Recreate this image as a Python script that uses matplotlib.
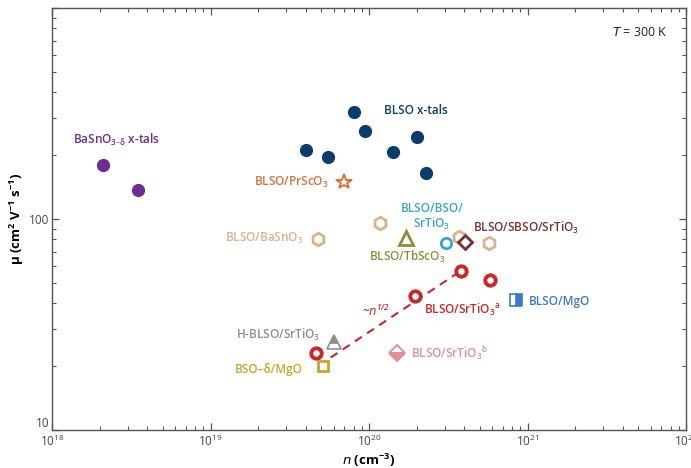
import matplotlib
matplotlib.use("Agg")
import matplotlib.pyplot as plt
from matplotlib.ticker import LogLocator, NullFormatter, FixedLocator, FixedFormatter

plt.rcParams['font.family'] = ['Open Sans', 'DejaVu Sans']
plt.rcParams['mathtext.default'] = 'regular'

# Carrier density n (cm^-3) and room-temperature mobility mu (cm^2 V^-1 s^-1)
bso_xtal_n = [2.1e18, 3.5e18]
bso_xtal_mu = [180, 137]

blso_xtal_n = [4.0e19, 5.5e19, 8.1e19, 9.4e19, 1.41e20, 2.0e20, 2.3e20]
blso_xtal_mu = [212, 197, 321, 261, 208, 245, 165]

prsco_n = [7.0e19]
prsco_mu = [150]

basno_film_n = [4.8e19, 1.18e20, 3.72e20, 5.75e20]
basno_film_mu = [80, 96, 82, 77]

bso_sto_n = [3.04e20]
bso_sto_mu = [77]

sbso_sto_n = [4.06e20]
sbso_sto_mu = [78]

tbsco_n = [1.70e20]
tbsco_mu = [81]

sto_a_n = [4.61e19, 1.94e20, 3.83e20, 5.84e20]
sto_a_mu = [23.2, 43.2, 56.7, 51.4]

mgo_n = [8.5e20]
mgo_mu = [41.3]

sto_b_n = [1.51e20]
sto_b_mu = [23.2]

h_sto_n = [5.98e19]
h_sto_mu = [26.1]

bso_mgo_n = [5.1e19]
bso_mgo_mu = [20.1]

# n^(1/2) guide line
guide_n = [4.8e19, 3.7e20]
guide_scale = 57 / (3.83e20) ** 0.5

# y-axis labelled decades
y_ticks = [10, 100, 1000]
y_tick_labels = ['10', '100', '']

PURPLE = '#6b2d8f'
NAVY = '#0a3d6b'
ORANGE = '#d2733a'
TAN = '#d6b48e'
CYAN = '#3aa5c8'
MAROON = '#7b2f30'
OLIVE = '#8e8d3c'
RED = '#c8282a'
BLUE = '#3b7bc4'
PINK = '#e08e98'
GRAY = '#8e8e90'
GOLD = '#c9a52b'

fig = plt.figure(figsize=(6.91, 4.68), dpi=100)
ax = fig.add_axes([52 / 691, 1 - 430 / 468, 634 / 691, 422 / 468])
ax.set_xscale('log')
ax.set_yscale('log')
ax.set_xlim(1e18, 1e22)
ax.set_ylim(10, 1000)

ax.plot(bso_xtal_n, bso_xtal_mu, 'o', ms=8.5, color=PURPLE, mec=PURPLE)
ax.plot(blso_xtal_n, blso_xtal_mu, 'o', ms=8.5, color=NAVY, mec=NAVY)
ax.plot(prsco_n, prsco_mu, '*', ms=11.5, mfc='white', mec=ORANGE, mew=1.4)
ax.plot(basno_film_n, basno_film_mu, 'h', ms=9, mfc='white', mec=TAN, mew=2.0)
ax.plot(bso_sto_n, bso_sto_mu, 'o', ms=7.5, mfc='white', mec=CYAN, mew=2.0)
ax.plot(sbso_sto_n, sbso_sto_mu, 'D', ms=7.5, mfc='white', mec=MAROON, mew=2.0)
ax.plot(tbsco_n, tbsco_mu, '^', ms=9.5, mfc='white', mec=OLIVE, mew=2.0)
ax.plot(guide_n, [guide_scale * v ** 0.5 for v in guide_n], '--',
        color=RED, lw=1.5, dashes=(4, 3))
ax.plot(sto_a_n, sto_a_mu, 'o', ms=7.5, mfc='white', mec=RED, mew=2.8)
ax.plot(mgo_n, mgo_mu, 's', ms=8, fillstyle='right', color=BLUE,
        mfc=BLUE, mfcalt='white', mec=BLUE, mew=1.2)
ax.plot(sto_b_n, sto_b_mu, 'D', ms=8.5, fillstyle='bottom', color=PINK,
        mfc=PINK, mfcalt='white', mec=PINK, mew=1.4)
ax.plot(h_sto_n, h_sto_mu, '^', ms=9.5, fillstyle='top', color=GRAY,
        mfc=GRAY, mfcalt='white', mec=GRAY, mew=1.2)
ax.plot(bso_mgo_n, bso_mgo_mu, 's', ms=7.5, mfc='white', mec=GOLD, mew=2.0)


def put(px, py, s, color, ha='left', **kw):
    ax.annotate(s, xy=(px / 691, 1 - py / 468), xycoords='figure fraction',
                color=color, fontsize=8.5, fontweight='semibold',
                ha=ha, va='center', **kw)


put(73, 140, 'BaSnO$_{3\u2013\\delta}$ x-tals', PURPLE)
put(384, 110, 'BLSO x-tals', NAVY)
put(329, 182, r'BLSO/PrScO$_3$', ORANGE, ha='right')
put(304, 238, r'BLSO/BaSnO$_3$', TAN, ha='right')
put(432, 217, 'BLSO/BSO/\nSrTiO$_3$', CYAN, ha='center', linespacing=1.1)
put(473, 228, r'BLSO/SBSO/SrTiO$_3$', MAROON)
put(369, 257, r'BLSO/TbScO$_3$', OLIVE)
put(424, 310, r'BLSO/SrTiO$_3$$^a$', RED)
put(529, 301, 'BLSO/MgO', BLUE)
put(411, 353, r'BLSO/SrTiO$_3$$^b$', PINK)
put(320, 335, r'H-BLSO/SrTiO$_3$', GRAY, ha='right')
put(303, 369, 'BSO\u2013\u03b4/MgO', GOLD, ha='right')
put(362, 311, r'~$\it{n}$$^{1/2}$', RED, style='italic')
ax.annotate(r'$\it{T}$ = 300 K', xy=(668 / 691, 1 - 33 / 468),
            xycoords='figure fraction', ha='right', va='center',
            fontsize=9, color='#222222')

ax.set_xlabel(r'$\it{n}$ (cm$^{-3}$)', fontsize=9.5, fontweight='bold',
              labelpad=2)
ax.set_ylabel('\u03bc (cm$^2$ V$^{-1}$ s$^{-1}$)', fontsize=9.5,
              fontweight='bold', labelpad=2)

ax.xaxis.set_major_locator(LogLocator(base=10, numticks=10))
ax.xaxis.set_minor_locator(LogLocator(base=10, subs=range(2, 10), numticks=20))
ax.xaxis.set_minor_formatter(NullFormatter())
ax.yaxis.set_major_locator(FixedLocator(y_ticks))
ax.yaxis.set_major_formatter(FixedFormatter(y_tick_labels))
ax.yaxis.set_minor_locator(LogLocator(base=10, subs=range(2, 10), numticks=20))
ax.yaxis.set_minor_formatter(NullFormatter())
ax.tick_params(which='both', direction='in', top=True, right=True,
               colors='#555555', labelcolor='#444444', labelsize=8.5)
ax.tick_params(which='major', length=5, width=0.9)
ax.tick_params(which='minor', length=3, width=0.8)
ax.tick_params(axis='x', pad=3)
ax.tick_params(axis='y', pad=2)
# lift the lowest y label so it clears the 10^18 label beneath it
ax.yaxis.get_majorticklabels()[0].set_verticalalignment('bottom')
for sp in ax.spines.values():
    sp.set_color('#555555')
    sp.set_linewidth(1.0)

fig.savefig('out.png', dpi=100)
